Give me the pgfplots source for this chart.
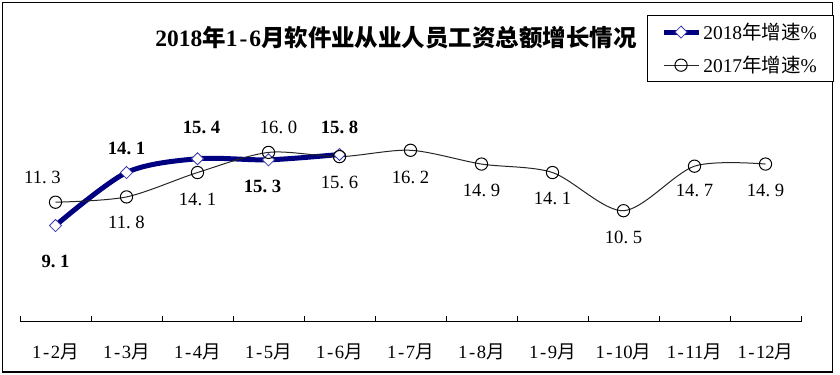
\documentclass[border=0pt]{standalone}
\usepackage{pgfplots}
\pgfplotsset{compat=1.18}
\usepackage{fontspec}
\setmainfont{Liberation Serif}
\newfontfamily\cjk{Noto Sans CJK SC}
\newcommand\hy{\makebox[0.5em]{-}}
\newcommand\dotp{\makebox[0.5em][l]{.}}
\newcommand\yue{{\cjk 月}}
\definecolor{navy18}{RGB}{0,0,128}
\definecolor{mk18}{RGB}{60,60,170}
\begin{document}
\begin{tikzpicture}[x=0.75pt,y=0.75pt]
\useasboundingbox (0,0) rectangle (840,375);
\fill[white] (0,0) rectangle (840,375);
\draw[black, line width=0.9pt] (2.5,3) rectangle (832.5,372.5);
\node[font=\fontsize{17.6}{20}\selectfont\bfseries] at (396,337) {2018{\cjk 年}1\hy 6{\cjk 月软件业从业人员工资总额增长情况}};
\coordinate (O) at (20,53);
\begin{axis}[
  at={(O)}, anchor=south west,
  scale only axis, width=585.75pt, height=159pt,
  xmin=-0.5, xmax=10.5, ymin=0, ymax=20,
  axis x line*=bottom, axis y line=none, ytick=\empty,
  axis line style={line width=0.75pt, black},
  xtick={0,1,2,3,4,5,6,7,8,9,10},
  xticklabels={1\hy 2\yue,1\hy 3\yue,1\hy 4\yue,1\hy 5\yue,1\hy 6\yue,1\hy 7\yue,1\hy 8\yue,1\hy 9\yue,1\hy 10\yue,1\hy 11\yue,1\hy 12\yue},
  major tick length=0pt,
  minor xtick={-0.5,0.5,1.5,2.5,3.5,4.5,5.5,6.5,7.5,8.5,9.5,10.5},
  minor tick length=4.5pt,
  tick align=inside,
  minor tick style={black, line width=0.75pt},
  xticklabel style={font=\fontsize{14}{16}\selectfont, anchor=center, yshift=-22.5pt, text=black},
  clip=false,
  legend image code/.code={\draw[mark repeat=2,mark phase=2] plot coordinates {(0cm,0cm) (0.45cm,0cm) (0.9cm,0cm)};},
  legend style={at={(0.8028,1.448)}, anchor=north west, draw=black, line width=0.75pt, fill=white,
    font=\fontsize{14.6}{16}\selectfont, inner xsep=10.5pt, inner ysep=3.5pt, row sep=7pt},
  legend cell align=left,
  visualization depends on={\thisrow{dx}\as\dx},
  visualization depends on={\thisrow{dy}\as\dy},
]
\addplot[navy18, line width=3.75pt, smooth, mark=square*, mark size=3.2pt,
  mark options={solid, fill=white, draw=mk18, line width=0.6pt, rotate=45},
  nodes near coords, point meta=explicit symbolic,
  every node near coord/.append style={anchor=center, xshift=\dx*0.75pt, yshift=\dy*0.75pt,
    font=\fontsize{14}{16}\selectfont\bfseries, text=black}]
  table[x=x, y=y, meta=lab] {
x y lab dx dy
0 9.1 9\dotp1 0 -36
1 14.1 14\dotp1 0 24
2 15.4 15\dotp4 4 31
3 15.3 15\dotp3 -6 -27
4 15.8 15\dotp8 0 27
};
\addlegendentry{2018{\cjk 年增速}\%}
\addplot[black!85, line width=0.75pt, smooth, mark=o, mark size=4.6pt,
  mark options={solid, draw=black, line width=0.75pt},
  nodes near coords, point meta=explicit symbolic,
  every node near coord/.append style={anchor=center, xshift=\dx*0.75pt, yshift=\dy*0.75pt,
    font=\fontsize{14}{16}\selectfont, text=black}]
  table[x=x, y=y, meta=lab] {
x y lab dx dy
0 11.3 11\dotp3 -13 25
1 11.8 11\dotp8 0 -26
2 14.1 14\dotp1 0 -27
3 16.0 16\dotp0 10 25
4 15.6 15\dotp6 0 -26
5 16.2 16\dotp2 0 -27
6 14.9 14\dotp9 0 -26
7 14.1 14\dotp1 0 -26
8 10.5 10\dotp5 0 -27
9 14.7 14\dotp7 0 -24
10 14.9 14\dotp9 0 -26
};
\addlegendentry{2017{\cjk 年增速}\%}
\end{axis}
\end{tikzpicture}
\end{document}
